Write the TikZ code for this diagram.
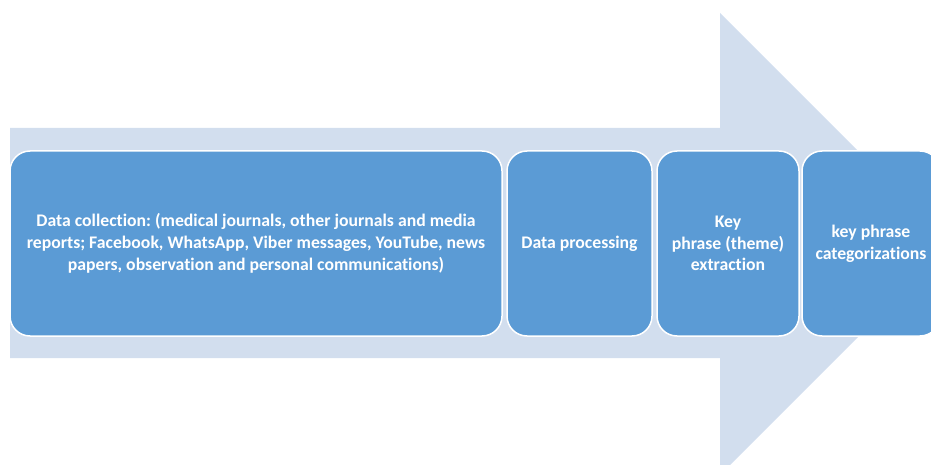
\documentclass[tikz,border=0pt]{standalone}
\usepackage{fontspec}
\setmainfont{Carlito}[Ligatures=NoCommon]
\frenchspacing

\definecolor{arrowfill}{RGB}{210,222,238}
\definecolor{stagefill}{RGB}{91,155,213}

\tikzset{
	stage/.style={draw=white, line width=1.5pt, fill=stagefill, rounded corners=20pt,
		text=white, font=\bfseries\fontsize{17.7}{21.8}\selectfont, align=center,
		minimum height=185pt, inner sep=0pt}
}

\begin{document}
\begin{tikzpicture}[x=1pt, y=-1pt]
				\useasboundingbox (0,0) rectangle (931,465);
				\clip (0,0) rectangle (931,465);
				
				%background arrow
				\fill[arrowfill] (10,128) -- (720,128) -- (720,13) -- (951,244)
					-- (720,475) -- (720,358) -- (10,358) -- cycle;
				
				%stages
				\node (collection) at (256,243.5) [stage, minimum width=492pt]{Data collection: (medical journals, other journals and media\\ reports; Facebook, WhatsApp, Viber messages, YouTube, news\\ papers, observation and personal communications)};
				\node (processing) at (579.5,243.5) [stage, minimum width=145pt]{Data processing};
				\node (extraction) at (728,243.5) [stage, minimum width=142pt]{Key\\ phrase (theme)\\ extraction};
				\node (categories) at (871,243.5) [stage, minimum width=138pt]{key phrase\\ categorizations};
			\end{tikzpicture}
\end{document}
